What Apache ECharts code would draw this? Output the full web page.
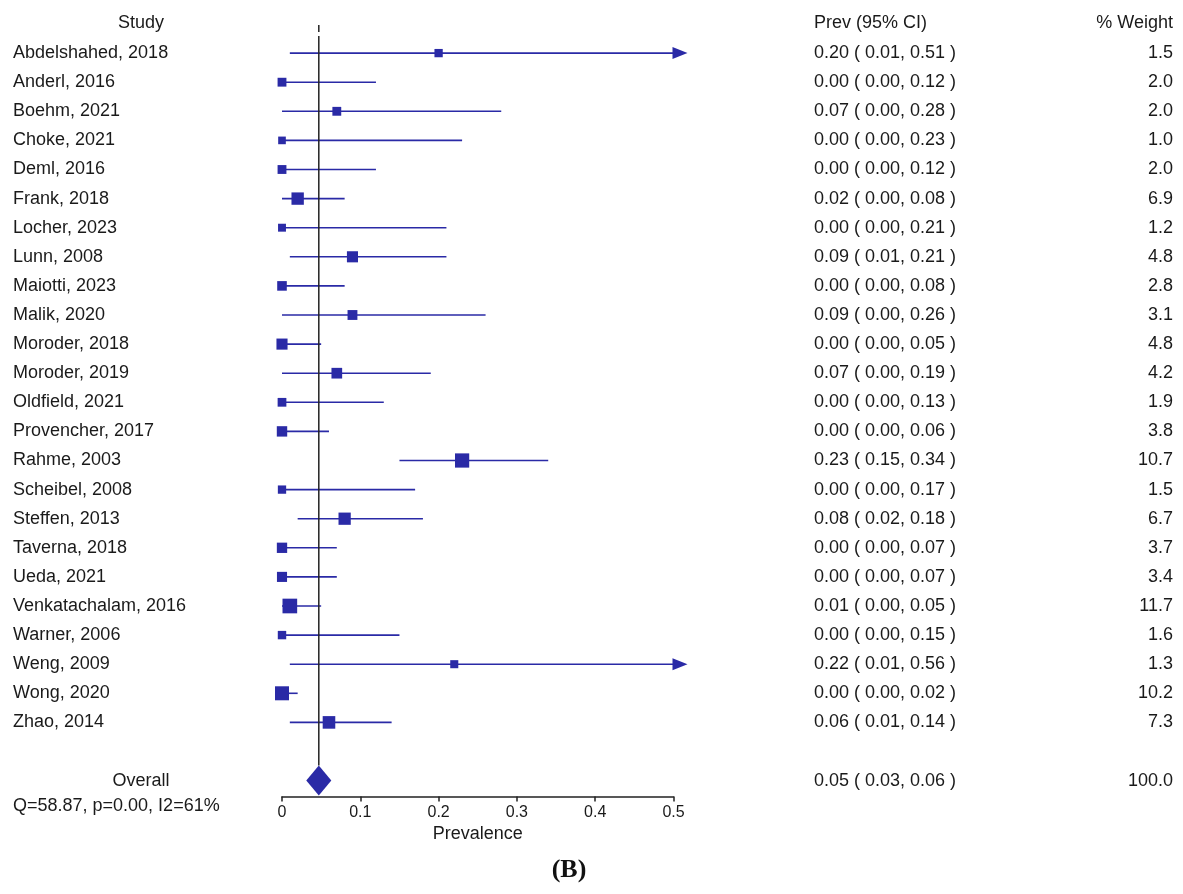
<!DOCTYPE html>
<html>
<head>
<meta charset="utf-8">
<title>Forest plot</title>
<script src="https://cdn.jsdelivr.net/npm/echarts@6/dist/echarts.min.js"></script>
<style>
  html, body { margin: 0; padding: 0; background: #fff; }
  #main { width: 1183px; height: 894px; }
</style>
</head>
<body>
<div id="main"></div>
<script>
// 研究名称
var studies = ['Abdelshahed, 2018', 'Anderl, 2016', 'Boehm, 2021', 'Choke, 2021', 'Deml, 2016',
  'Frank, 2018', 'Locher, 2023', 'Lunn, 2008', 'Maiotti, 2023', 'Malik, 2020', 'Moroder, 2018',
  'Moroder, 2019', 'Oldfield, 2021', 'Provencher, 2017', 'Rahme, 2003', 'Scheibel, 2008',
  'Steffen, 2013', 'Taverna, 2018', 'Ueda, 2021', 'Venkatachalam, 2016', 'Warner, 2006',
  'Weng, 2009', 'Wong, 2020', 'Zhao, 2014'];
// 患病率及置信区间
var prev = [0.20, 0.00, 0.07, 0.00, 0.00, 0.02, 0.00, 0.09, 0.00, 0.09, 0.00, 0.07,
  0.00, 0.00, 0.23, 0.00, 0.08, 0.00, 0.00, 0.01, 0.00, 0.22, 0.00, 0.06];
var lower = [0.01, 0.00, 0.00, 0.00, 0.00, 0.00, 0.00, 0.01, 0.00, 0.00, 0.00, 0.00,
  0.00, 0.00, 0.15, 0.00, 0.02, 0.00, 0.00, 0.00, 0.00, 0.01, 0.00, 0.01];
var upper = [0.51, 0.12, 0.28, 0.23, 0.12, 0.08, 0.21, 0.21, 0.08, 0.26, 0.05, 0.19,
  0.13, 0.06, 0.34, 0.17, 0.18, 0.07, 0.07, 0.05, 0.15, 0.56, 0.02, 0.14];
// 权重
var weights = [1.5, 2.0, 2.0, 1.0, 2.0, 6.9, 1.2, 4.8, 2.8, 3.1, 4.8, 4.2,
  1.9, 3.8, 10.7, 1.5, 6.7, 3.7, 3.4, 11.7, 1.6, 1.3, 10.2, 7.3];
// 合并结果
var overallEst = 0.047;
var overallLow = 0.031;
var overallHigh = 0.063;
var overallWeight = 100.0;
var overallRow = 25;
var xTicks = [0, 0.1, 0.2, 0.3, 0.4, 0.5];
var heterogeneity = 'Q=58.87, p=0.00, I2=61%';

var FONT = '"Liberation Sans", Arial, Helvetica, sans-serif';
var TXT = '#1a1a1a';
var BLUE = '#2a2aa6';
var XMAX = 0.5;

var rows = [];
for (var i = 0; i < studies.length; i++) {
  rows.push([i, prev[i], lower[i], upper[i], weights[i]]);
}

function fmtCI(p, l, u) {
  return p.toFixed(2) + ' ( ' + l.toFixed(2) + ', ' + u.toFixed(2) + ' )';
}

function textEl(str, x, y, align, size) {
  return {
    type: 'text',
    style: {
      text: str, x: x, y: y, fill: TXT,
      font: (size || 18) + 'px ' + FONT,
      align: align || 'left', verticalAlign: 'middle'
    }
  };
}

function renderRow(params, api) {
  var idx = api.value(0);
  var p = api.value(1), l = api.value(2), u = api.value(3), w = api.value(4);
  var c = api.coord([p, idx]);
  var cl = api.coord([l, idx]);
  var cu = api.coord([Math.min(u, XMAX), idx]);
  var size = 4.75 + 2.9 * Math.sqrt(w);
  var children = [];
  children.push({
    type: 'line',
    shape: { x1: cl[0], y1: c[1], x2: cu[0], y2: c[1] },
    style: { stroke: BLUE, lineWidth: 1.6 }
  });
  if (u > XMAX) {
    // 超出范围画箭头
    children.push({
      type: 'polygon',
      shape: { points: [[cu[0] - 1, c[1] - 6], [cu[0] + 14, c[1]], [cu[0] - 1, c[1] + 6]] },
      style: { fill: BLUE }
    });
  }
  children.push({
    type: 'rect',
    shape: { x: c[0] - size / 2, y: c[1] - size / 2, width: size, height: size },
    style: { fill: BLUE }
  });
  children.push(textEl(studies[idx], 13, c[1], 'left'));
  children.push(textEl(fmtCI(p, l, u), 814, c[1], 'left'));
  children.push(textEl(w.toFixed(1), 1173, c[1], 'right'));
  return { type: 'group', children: children };
}

function renderOverall(params, api) {
  var e = api.coord([api.value(1), api.value(0)]);
  var lo = api.coord([api.value(2), api.value(0)]);
  var hi = api.coord([api.value(3), api.value(0)]);
  var top = api.coord([api.value(1), -1]);
  var h = 15;
  return {
    type: 'group',
    children: [
      {
        type: 'line',
        shape: { x1: e[0], y1: top[1] + 1, x2: e[0], y2: top[1] + 8 },
        style: { stroke: '#222', lineWidth: 1.5 }
      },
      {
        type: 'line',
        shape: { x1: e[0], y1: top[1] + 12, x2: e[0], y2: e[1] - h },
        style: { stroke: '#222', lineWidth: 1.5 }
      },
      {
        type: 'polygon',
        shape: { points: [[lo[0], e[1]], [e[0], e[1] - h], [hi[0], e[1]], [e[0], e[1] + h]] },
        style: { fill: BLUE }
      },
      textEl('Overall', 141, e[1], 'center'),
      textEl(fmtCI(api.value(1), api.value(2), api.value(3)), 814, e[1], 'left'),
      textEl(api.value(4).toFixed(1), 1173, e[1], 'right')
    ]
  };
}

var chart = echarts.init(document.getElementById('main'));
var option = {
  animation: false,
  backgroundColor: '#fff',
  grid: { left: 282, top: 24, width: 391.5, height: 772.6 },
  xAxis: {
    type: 'value', min: 0, max: XMAX, interval: 0.1, position: 'bottom',
    name: 'Prevalence', nameLocation: 'middle', nameGap: 25,
    nameTextStyle: { fontSize: 18, color: TXT, fontFamily: FONT },
    axisLine: { show: true, onZero: false, lineStyle: { color: '#222', width: 1.5 } },
    axisTick: { show: true, length: 5, lineStyle: { color: '#222', width: 1.5 } },
    axisLabel: {
      margin: 8, fontSize: 16, color: TXT, fontFamily: FONT,
      formatter: function (v) {
        var t = xTicks.filter(function (k) { return Math.abs(k - v) < 1e-9; });
        return t.length ? String(t[0]) : '';
      }
    },
    splitLine: { show: false }
  },
  yAxis: {
    type: 'value', inverse: true, min: -1, max: 25.55, show: false
  },
  graphic: [
    textEl('Study', 141, 23, 'center'),
    textEl('Prev (95% CI)', 814, 23, 'left'),
    textEl('% Weight', 1173, 23, 'right'),
    textEl(heterogeneity, 13, 806, 'left'),
    {
      type: 'text',
      style: {
        text: '(B)', x: 569, y: 870, fill: '#111',
        font: 'bold 26px "Liberation Serif", "Times New Roman", serif',
        align: 'center', verticalAlign: 'middle'
      }
    }
  ],
  series: [
    {
      type: 'custom',
      renderItem: renderRow,
      encode: { x: [1, 2, 3], y: 0 },
      data: rows
    },
    {
      type: 'custom',
      renderItem: renderOverall,
      encode: { x: [1, 2, 3], y: 0 },
      data: [[overallRow, overallEst, overallLow, overallHigh, overallWeight]]
    }
  ]
};
chart.setOption(option);
</script>
</body>
</html>
